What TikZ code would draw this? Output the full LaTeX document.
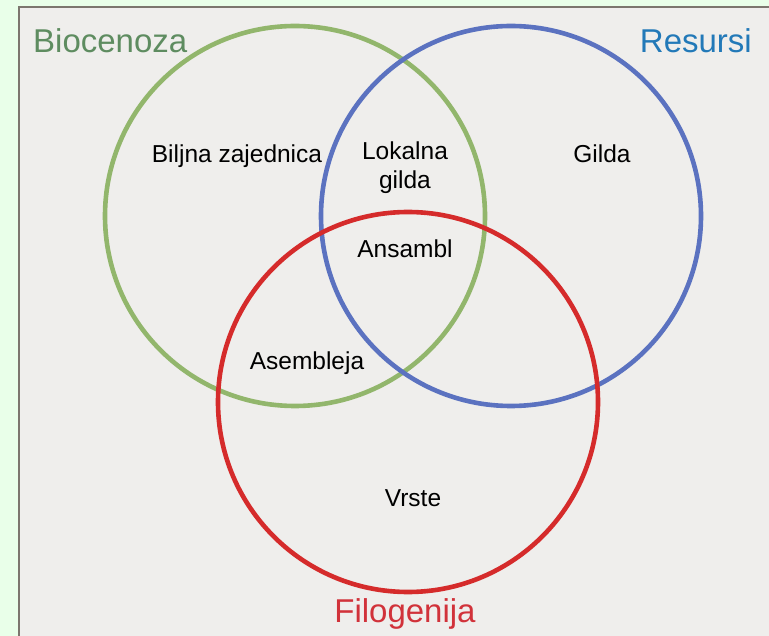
\documentclass[tikz,border=0pt]{standalone}
\usepackage{fontspec}
\setmainfont{Liberation Sans}
\usepackage{xcolor}
\usepackage{tikz}
\definecolor{pagegreen}{HTML}{E9FFE9}
\definecolor{panelgray}{HTML}{EFEEEC}
\definecolor{frameline}{HTML}{7C766E}
\definecolor{biogreen}{HTML}{92B66C}
\definecolor{biotext}{HTML}{5E8C60}
\definecolor{resblue}{HTML}{5B72C0}
\definecolor{restext}{HTML}{2279B8}
\definecolor{filred}{HTML}{D52B2B}
\definecolor{filtext}{HTML}{D1323A}

\begin{document}
\begin{tikzpicture}[x=1pt, y=-1pt,
    setring/.style={circle, line width=4.6pt, minimum size=380pt, inner sep=0pt},
    setname/.style={inner sep=0pt, font=\fontsize{33}{39}\selectfont},
    termlabel/.style={inner sep=0pt, align=center, font=\fontsize{24.5}{29}\selectfont}]
    \useasboundingbox (0,0) rectangle (769,636);
    \fill[pagegreen] (0,0) rectangle (769,636);
    \draw[fill=panelgray, draw=frameline, line width=2pt] (19,7) rectangle (775,642);

    % the three sets
    \node[setring, draw=biogreen] (bio) at (295,216) {};
    \node[setring, draw=resblue] (res) at (511,216) {};
    \node[setring, draw=filred] (fil) at (408,402) {};

    \node[setname, text=biotext, anchor=base west] (bioname) at (33,53) {Biocenoza};
    \node[setname, text=restext, anchor=base east] (resname) at (752,53) {Resursi};
    \node[setname, text=filtext, anchor=base] (filname) at (405,622) {Filogenija};

    % terms in the regions
    \node[termlabel, anchor=base] (zajednica) at (237,163) {Biljna zajednica};
    \node[termlabel] (lokalna) at (405,168) {Lokalna\\gilda};
    \node[termlabel, anchor=base] (gilda) at (602,163) {Gilda};
    \node[termlabel, anchor=base] (ansambl) at (405,258) {Ansambl};
    \node[termlabel, anchor=base] (asembleja) at (307,370) {Asembleja};
    \node[termlabel, anchor=base] (vrste) at (413,506) {Vrste};
\end{tikzpicture}
\end{document}
